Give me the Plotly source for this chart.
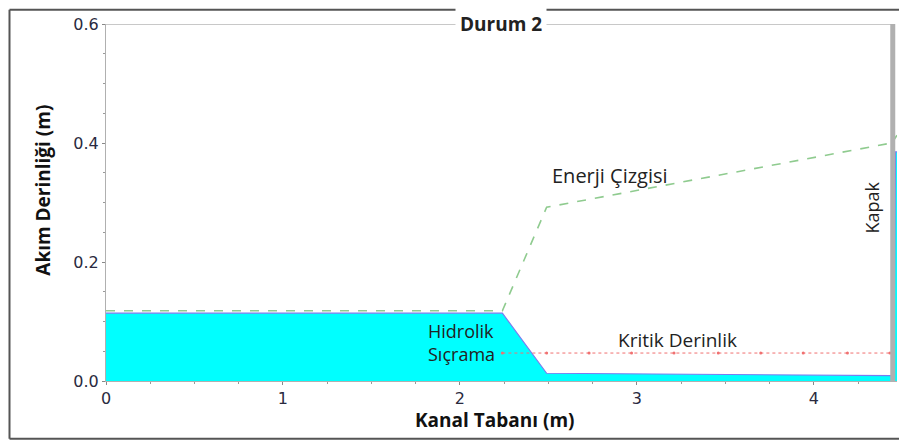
import plotly.graph_objects as go

# values
water_x = [0, 2.24, 2.49, 3.0, 3.5, 4.0, 4.44, 4.452, 4.462, 4.47]
water_y = [0.114, 0.114, 0.013, 0.012, 0.011, 0.010, 0.009, 0.02, 0.385, 0.385]

energy_x = [0, 2.24, 2.49, 4.44, 4.47]
energy_y = [0.118, 0.118, 0.292, 0.400, 0.413]

crit_x = [2.24, 2.49, 2.73, 2.97, 3.21, 3.46, 3.70, 3.94, 4.19, 4.43]
crit_y = [0.047] * len(crit_x)

gate_x = 4.446
gate_top = 0.612
y_top = 0.6

FONT_TXT = "Open Sans, Lato, sans-serif"
TICK_FONT = dict(family="DejaVu Sans", size=16, color="#2a2a40")

fig = go.Figure()

# water body
fig.add_trace(go.Scatter(
    x=water_x, y=water_y, mode="lines", fill="tozeroy",
    fillcolor="#00FFFF", line=dict(color="#7B7BF0", width=1.2),
    showlegend=False, hoverinfo="skip",
))

# energy line
fig.add_trace(go.Scatter(
    x=energy_x, y=energy_y, mode="lines",
    line=dict(color="#8FCB8F", width=1.6, dash="dash"),
    showlegend=False, hoverinfo="skip",
))

# critical depth
fig.add_trace(go.Scatter(
    x=crit_x, y=crit_y, mode="lines+markers",
    line=dict(color="#F07070", width=1, dash="dot"),
    marker=dict(size=3, color="#F07070"),
    showlegend=False, hoverinfo="skip",
))

# top line
fig.add_trace(go.Scatter(
    x=[0, gate_x], y=[y_top, y_top], mode="lines",
    line=dict(color="#C8C8C8", width=2),
    showlegend=False, hoverinfo="skip", cliponaxis=False,
))

# gate
fig.add_trace(go.Scatter(
    x=[gate_x, gate_x], y=[0, gate_top], mode="lines",
    line=dict(color="#B0B0B0", width=5),
    showlegend=False, hoverinfo="skip", cliponaxis=False,
))

annotations = [
    dict(x=2.23, y=y_top, text="<b>Durum 2</b>", showarrow=False,
         font=dict(family=FONT_TXT, size=19, color="#222"),
         bgcolor="white", borderpad=4, xanchor="center", yanchor="middle"),
    dict(x=2.85, y=0.345, text="Enerji Çizgisi", showarrow=False,
         font=dict(family=FONT_TXT, size=20, color="#222")),
    dict(x=2.01, y=0.064, text="Hidrolik<br>Sıçrama", showarrow=False,
         font=dict(family=FONT_TXT, size=18, color="#222"), align="left"),
    dict(x=3.23, y=0.069, text="Kritik Derinlik", showarrow=False,
         font=dict(family=FONT_TXT, size=19, color="#222")),
    dict(x=4.33, y=0.292, text="Kapak", showarrow=False, textangle=-90,
         font=dict(family=FONT_TXT, size=18, color="#222")),
    # axis titles
    dict(xref="paper", yref="paper", x=0.492, y=-0.109, text="<b>Kanal Tabanı (m)</b>",
         xanchor="center", yanchor="middle",
         showarrow=False, font=dict(family=FONT_TXT, size=19, color="#111")),
    dict(xref="paper", yref="paper", x=-0.08, y=0.535, text="<b>Akım Derinliği (m)</b>",
         xanchor="center", yanchor="middle",
         showarrow=False, textangle=-90, font=dict(family=FONT_TXT, size=19, color="#111")),
]

# outer frame (left, top, bottom edges; right edge lies outside the view)
frame = dict(xref="paper", yref="paper", line=dict(color="#555", width=2))
fx0, fx1, fy0, fy1 = -0.122, 1.03, -0.162, 1.04
shapes = [
    dict(type="line", x0=fx0, x1=fx0, y0=fy0, y1=fy1, **frame),
    dict(type="line", x0=fx0, x1=fx1, y0=fy1, y1=fy1, **frame),
    dict(type="line", x0=fx0, x1=fx1, y0=fy0, y1=fy0, **frame),
]

fig.update_layout(
    width=907, height=441,
    paper_bgcolor="white", plot_bgcolor="white",
    margin=dict(l=98, r=18, t=16, b=68, autoexpand=False),
    annotations=annotations,
    shapes=shapes,
)

fig.update_xaxes(
    range=[0, 4.47], tickvals=[0, 1, 2, 3, 4], showgrid=False, zeroline=False,
    automargin=False,
    showline=True, linecolor="#B0B0B0", linewidth=1,
    ticks="outside", ticklen=3, tickcolor="#888",
    minor=dict(dtick=0.25, ticks="outside", ticklen=2, tickcolor="#999"),
    tickfont=TICK_FONT,
)
fig.update_yaxes(
    range=[0, 0.6], tickvals=[0, 0.2, 0.4, 0.6], ticktext=["0.0", "0.2", "0.4", "0.6"],
    showgrid=False, zeroline=False, automargin=False,
    showline=True, linecolor="#B0B0B0", linewidth=1,
    ticks="outside", ticklen=3, tickcolor="#888",
    minor=dict(dtick=0.05, ticks="outside", ticklen=2, tickcolor="#999"),
    tickfont=TICK_FONT,
)

fig.write_html("out.html")
